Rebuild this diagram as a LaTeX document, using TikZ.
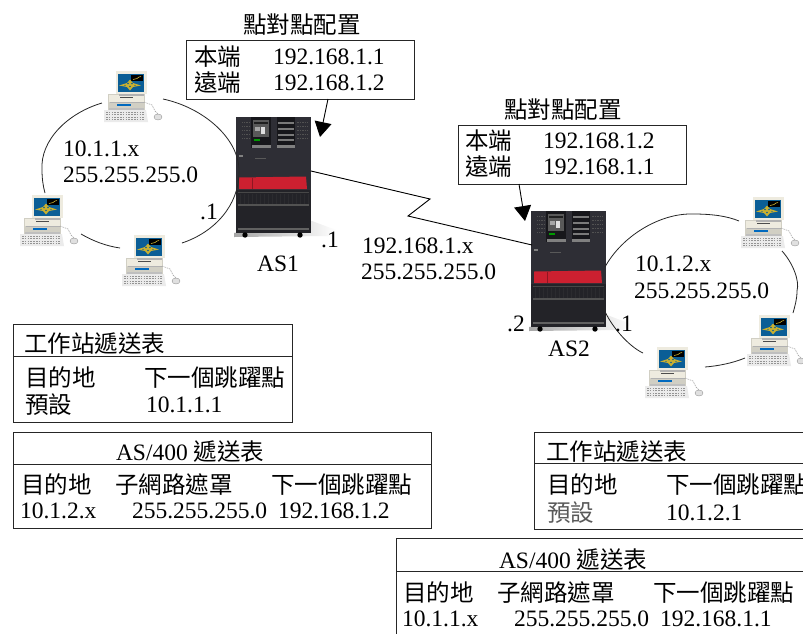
\documentclass[tikz,border=0pt]{standalone}
\usepackage{fontspec}
\setmainfont{Liberation Serif}
\newfontfamily\cjk{Noto Sans CJK TC}
\usetikzlibrary{arrows.meta,calc}
\newcommand{\cj}[1]{{\cjk #1}}
\definecolor{srvbody}{HTML}{2E2E35}
\definecolor{srvdark}{HTML}{232328}
\definecolor{srvpanel}{HTML}{17171B}
\definecolor{srvred}{HTML}{CC2030}
\definecolor{pcbeige}{HTML}{EEEBDF}
\definecolor{pcblue}{HTML}{0B5E96}
\definecolor{pcgold}{HTML}{C9B030}
\tikzset{
  lbl/.style={inner sep=0pt,outer sep=0pt,anchor=west,text height=16pt,text depth=0pt,font=\fontsize{23.5}{26}\selectfont},
  ctr/.style={lbl,anchor=center},
  frame/.style={draw=black!85,line width=0.9pt,inner sep=0pt,outer sep=0pt,anchor=north west},
  ring/.style={draw=black!85,line width=0.8pt},
  wan/.style={draw=black,line width=0.9pt},
  pointer/.style={draw=black,line width=0.9pt,-{Triangle[length=15pt,width=17pt]}},
  rule/.style={draw=black!85,line width=0.9pt},
  srvmark/.style={inner sep=0pt,outer sep=0pt,anchor=north west,minimum width=75pt,minimum height=116pt,fill=srvbody},
  server/.pic={
    \shade[left color=black!35,right color=white] (70,104) -- (76,104) -- (100,113) -- (92,119) -- (-2,120) -- (-2,116) -- cycle;
    \fill[srvbody] (0,0) rectangle (75,116);
    \fill[srvdark] (0,73) rectangle (75,116);
    \fill[black!72] (2,75) rectangle (73,76);
    \fill[black!68] (2,87) rectangle (73,88.5);
    \fill[black!62] (2,111) rectangle (73,113);
    \foreach \gx in {4,8,...,72}{\fill[black!60,opacity=.12] (\gx,77) rectangle (\gx+1,87);}
    % left control panel
    \fill[srvpanel] (15,0) rectangle (35,31);
    \fill[black!65] (17,3) rectangle (33,20);
    \fill[black!88] (18,5) rectangle (32,7);
    \fill[black!12] (25,10) rectangle (29,17);
    \fill[black!35] (19,10) rectangle (24,14);
    \fill[green!60!black] (18,22) rectangle (24,24);
    \fill[black!50] (16,28) rectangle (35,31);
    % right control panel
    \fill[srvpanel] (41,0) rectangle (59,31);
    \foreach \sy in {5,11,17,22}{\fill[black!52] (42,\sy) rectangle (58,\sy+2);}
    \fill[black!50] (41,28) rectangle (59,31);
    % vents
    \foreach \vy in {5,9,13,17,21}{
      \draw[black!68,line width=1pt,dash pattern=on 1.5pt off 1pt] (14,\vy) -- (6,\vy);
      \draw[black!68,line width=1pt,dash pattern=on 1.5pt off 1pt] (61,\vy) -- (72,\vy);
    }
    \fill[black!50] (3,38) rectangle (7,40);
    \fill[black!65] (19,41) rectangle (30,42);
    % red drawer
    \fill[srvred] (3,60.5) -- (70,59.5) -- (71,72) -- (3,72) -- cycle;
    \draw[srvred!70!black,line width=0.5pt] (16,60.5) -- (16,72);
    % casters
    \fill[black] (9,118) circle (2.7);
    \fill[black] (64,118) circle (2.7);
  },
  computer/.pic={
    % system unit
    \fill[pcbeige!88!black] (-8,23) rectangle (29,39);
    \fill[pcbeige] (-7,24) rectangle (28,31);
    \fill[black!70] (4,26) rectangle (17,27);
    \fill[black!30] (-6,31) rectangle (28,32);
    \fill[blue!45!cyan!75!black] (1,33) rectangle (15,35);
    \fill[black!25] (-7,37) rectangle (28,39);
    % monitor
    \fill[pcbeige] (0,0) rectangle (31,23);
    \fill[black!30] (3,23) rectangle (28,25);
    \fill[pcblue] (2,3) rectangle (28,21);
    \fill[black] (15,4) rectangle (27,10);
    \draw[pcgold,line width=0.6pt] (17,8.5) -- (21,7.5) -- (23,6) -- (25,5.5);
    \fill[pcgold] (3,14.5) -- (11,12) -- (14,8.5) -- (17,12) -- (25,14.5) -- (17,16) -- (14,19.5) -- (11,16) -- cycle;
    \fill[pcblue] (12,12.5) circle (0.8) (16,12.5) circle (0.8) (14,15.5) circle (0.8) (9,14.5) circle (0.7) (19,14.5) circle (0.7);
    % keyboard
    \fill[black!8] (-12,39) -- (30,39) -- (32,51) -- (-12,51) -- cycle;
    \foreach \ky in {41,43.5,46,48.5}{\draw[black!42,line width=1pt,dash pattern=on 1.6pt off 1.2pt] (-10,\ky) -- (29,\ky);}
    % cable and mouse
    \draw[black!40,line width=0.5pt,dash pattern=on 1.5pt off 1pt] (28,31) -- (36,34) -- (39,40) -- (42,43);
    \fill[black!12] (42,46) ellipse (4 and 3);
    \draw[black!40,line width=0.4pt] (42,46) ellipse (4 and 3);
  }
}
\begin{document}
\begin{tikzpicture}[x=1pt,y=-1pt]
\path[use as bounding box,clip] (0,0) rectangle (803,633);
\fill[white] (0,0) rectangle (803,633);

% servers
\node[srvmark] (as1) at (236,117) {};
\node[srvmark] (as2) at (531,211) {};
\pic at (236,117) {server};
\pic at (531,211) {server};

% workstations
\coordinate (pc1) at (116,71);
\coordinate (pc2) at (32,195);
\coordinate (pc3) at (134,235);
\coordinate (pc4) at (753,197);
\coordinate (pc5) at (759,315);
\coordinate (pc6) at (657,347);
\foreach \p in {pc1,pc2,pc3,pc4,pc5,pc6}{\pic at (\p) {computer};}

% left ring
\draw[ring] ($(pc1)+(-14,32)$) .. controls (68,113) and (40,140) .. (42,170) .. controls (42,178) and (43,186) .. ($(pc2)+(13,-2)$);
\draw[ring] ($(pc1)+(47,28)$) .. controls (205,108) and (240,140) .. (239,172) .. controls (239,205) and (215,232) .. ($(pc3)+(48,8)$);
\draw[ring] ($(pc2)+(49,39)$) .. controls (93,241) and (106,246) .. ($(pc3)+(-14,13)$);

% right ring
\draw[ring] ($(as2.north east)+(-1,56)$) .. controls (622,236) and (660,213) .. (693,214) .. controls (712,214) and (727,216) .. ($(pc4)+(-14,24)$);
\draw[ring] ($(pc4)+(29,54)$) .. controls (792,262) and (800,280) .. (797,291) .. controls (797,299) and (795,306) .. ($(pc5)+(34,-2)$);
\draw[ring] ($(pc5)+(-14,43)$) .. controls (733,363) and (718,366) .. ($(pc6)+(48,20)$);
\draw[ring] ($(pc6)+(-14,6)$) .. controls (628,346) and (610,325) .. ($(as2.north east)+(-3,96)$);

% wan link
\coordinate (wan1) at (430,199);
\coordinate (wan2) at (408,216);
\draw[wan] ($(as1.north east)+(0,54)$) -- (wan1) -- (wan2) -- ($(as2.north west)+(1,34)$);

% point-to-point configuration
\node[ctr] (cfgt1) at (302,25) {\cj{點對點配置}};
\node[frame,minimum width=228pt,minimum height=58.5pt] (cfg1) at (186,40.5) {};
\node[lbl] (cfg1a) at (194,57) {\cj{本端}};
\node[lbl] (cfg1b) at (194,83) {\cj{遠端}};
\node[lbl] (cfg1c) at (273,56) {192.168.1.1};
\node[lbl] (cfg1d) at (273,82) {192.168.1.2};
\coordinate (cfg1out) at (328,99);
\coordinate (as1tip) at (320,137);
\draw[pointer] (cfg1out) -- (as1tip);

\node[ctr] (cfgt2) at (563,110) {\cj{點對點配置}};
\node[frame,minimum width=228pt,minimum height=59pt] (cfg2) at (458,125) {};
\node[lbl] (cfg2a) at (465,141) {\cj{本端}};
\node[lbl] (cfg2b) at (465,167) {\cj{遠端}};
\node[lbl] (cfg2c) at (543,140) {192.168.1.2};
\node[lbl] (cfg2d) at (543,166) {192.168.1.1};
\coordinate (cfg2out) at (519,184);
\coordinate (as2tip) at (525,221);
\draw[pointer] (cfg2out) -- (as2tip);

% network labels
\node[lbl] (n1a) at (63,148) {10.1.1.x};
\node[lbl] (n1b) at (63,174) {255.255.255.0};
\node[lbl] (n2a) at (362,245) {192.168.1.x};
\node[lbl] (n2b) at (361,271) {255.255.255.0};
\node[lbl] (n3a) at (635,263) {10.1.2.x};
\node[lbl] (n3b) at (634,290) {255.255.255.0};
\node[ctr] (d1) at (209,211) {.1};
\node[ctr] (d2) at (330,239) {.1};
\node[ctr] (d3) at (516,323) {.2};
\node[ctr] (d4) at (624,323) {.1};
\node[ctr] (as1l) at (278,263) {AS1};
\node[ctr] (as2l) at (569,348) {AS2};

% workstation routing table, left
\node[frame,minimum width=279pt,minimum height=98pt] (t1) at (13,324) {};
\draw[rule] (t1.west |- 0,356) -- (t1.east |- 0,356);
\node[lbl] (t1t) at (24,344) {\cj{工作站遞送表}};
\node[lbl] (t1a) at (25,378) {\cj{目的地}};
\node[lbl] (t1b) at (144,378) {\cj{下一個跳躍點}};
\node[lbl] (t1c) at (25,405) {\cj{預設}};
\node[lbl] (t1d) at (146,404) {10.1.1.1};

% AS/400 routing table, left
\node[frame,minimum width=418pt,minimum height=96pt] (t2) at (13,432) {};
\draw[rule] (t2.west |- 0,464) -- (t2.east |- 0,464);
\node[lbl] (t2t) at (116,452) {AS/400 \cj{遞送表}};
\node[lbl] (t2a) at (21,485) {\cj{目的地}};
\node[lbl] (t2b) at (115,485) {\cj{子網路遮罩}};
\node[lbl] (t2c) at (271,485) {\cj{下一個跳躍點}};
\node[lbl] (t2d) at (20,510) {10.1.2.x};
\node[lbl] (t2e) at (132,510) {255.255.255.0};
\node[lbl] (t2f) at (278,510) {192.168.1.2};

% workstation routing table, right
\node[frame,minimum width=279pt,minimum height=97pt] (t3) at (534,432) {};
\draw[rule] (t3.west |- 0,463) -- (t3.east |- 0,463);
\node[lbl] (t3t) at (546,452) {\cj{工作站遞送表}};
\node[lbl] (t3a) at (547,485) {\cj{目的地}};
\node[lbl] (t3b) at (666,485) {\cj{下一個跳躍點}};
\node[lbl,text=black!65] (t3c) at (547,513) {\cj{預設}};
\node[lbl] (t3d) at (666,512) {10.1.2.1};

% AS/400 routing table, right
\node[frame,minimum width=418pt,minimum height=110pt] (t4) at (396,538) {};
\draw[rule] (t4.west |- 0,571) -- (t4.east |- 0,571);
\node[lbl] (t4t) at (499,560) {AS/400 \cj{遞送表}};
\node[lbl] (t4a) at (403,593) {\cj{目的地}};
\node[lbl] (t4b) at (497,593) {\cj{子網路遮罩}};
\node[lbl] (t4c) at (653,593) {\cj{下一個跳躍點}};
\node[lbl] (t4d) at (402,618) {10.1.1.x};
\node[lbl] (t4e) at (514,618) {255.255.255.0};
\node[lbl] (t4f) at (660,618) {192.168.1.1};
\end{tikzpicture}
\end{document}
